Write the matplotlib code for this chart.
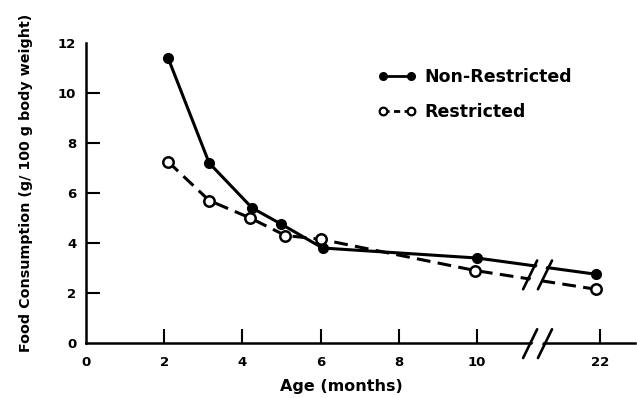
import matplotlib
matplotlib.use('Agg')
import matplotlib.pyplot as plt
import numpy as np
from matplotlib.lines import Line2D
from matplotlib.patches import Polygon

# values
age_nr = [2.1, 3.15, 4.25, 5.0, 6.05, 10.0, 21.6]
food_nr = [11.4, 7.2, 5.4, 4.75, 3.8, 3.4, 2.75]
age_r = [2.1, 3.15, 4.2, 5.1, 6.0, 9.95, 21.6]
food_r = [7.25, 5.7, 5.0, 4.3, 4.15, 2.9, 2.15]
xticks = [0, 2, 4, 6, 8, 10, 22]
yticks = [0, 2, 4, 6, 8, 10, 12]
labels = ['Non-Restricted', 'Restricted']

K = 0.2625  # compression of the axis after the break

def fwd(x):
    x = np.asarray(x, float)
    return np.where(x <= 10, x, 10 + (x - 10) * K)

def inv(x):
    x = np.asarray(x, float)
    return np.where(x <= 10, x, 10 + (x - 10) / K)

plt.rcParams['font.family'] = 'DejaVu Sans'
plt.rcParams['font.weight'] = 'bold'

fig = plt.figure(figsize=(6.37, 3.98), dpi=100)
ax = fig.add_axes([86/637, 1-343/398, 549/637, 300/398])
ax.set_xscale('function', functions=(fwd, inv))
ax.set_xlim(0, 25.4)
ax.set_ylim(0, 12)

for s in ['top', 'right']:
    ax.spines[s].set_visible(False)
for s in ['left', 'bottom']:
    ax.spines[s].set_linewidth(1.8)

ax.set_xticks(xticks)
ax.set_xticklabels([str(t) for t in xticks])
ax.set_yticks(yticks)
ax.tick_params(direction='in', length=10, width=1.5, labelsize=9.5)
ax.tick_params(axis='x', pad=9)
ax.tick_params(axis='y', pad=7)
ax.yaxis.get_major_ticks()[-1].tick1line.set_visible(False)
ax.yaxis.get_major_ticks()[0].tick1line.set_visible(False)
ax.xaxis.get_major_ticks()[0].tick1line.set_visible(False)

ax.plot(age_nr, food_nr, '-', color='black', lw=2.2, marker='o', ms=7,
        mfc='black', mec='black', zorder=3)
ax.plot(age_r, food_r, color='black', lw=2.2, dashes=(4.5, 2.4), marker='o',
        ms=7.5, mfc='white', mec='black', mew=1.8, zorder=4)

# axis break marks
def brk(y0, y1):
    d0, w, g = 11.18, 0.36, 0.38
    a = inv([d0, d0 + w])
    b = inv([d0 + g, d0 + g + w])
    ax.add_patch(Polygon([[a[0] + 0.25, y0], [a[1] + 0.25, y1], [b[1] - 0.25, y1], [b[0] - 0.25, y0]],
                         closed=True, fc='white', ec='none', zorder=6, clip_on=False))
    ax.plot(a, [y0, y1], color='black', lw=1.9, zorder=7, clip_on=False, solid_capstyle='round')
    ax.plot(b, [y0, y1], color='black', lw=1.9, zorder=7, clip_on=False, solid_capstyle='round')

brk(2.15, 3.3)
brk(-0.6, 0.55)

ax.set_xlabel('Age (months)', fontsize=11.5, fontweight='bold')
ax.xaxis.set_label_coords(0.465, -0.12)
ax.set_ylabel('Food Consumption (g/ 100 g body weight)', fontsize=10.3, fontweight='bold')
ax.yaxis.set_label_coords(-0.0965, 0.533)

handles = [Line2D([], [], color='black', lw=2, marker='o', ms=5.5, mfc='black', mec='black'),
           Line2D([], [], color='black', lw=2, dashes=(2.2, 1.6), marker='o', ms=5.5,
                  mfc='white', mec='black', mew=1.6)]
ax.legend(handles, labels, numpoints=2, frameon=False, fontsize=12.5, loc='upper left',
          bbox_to_anchor=(378/637, 1-68/398), bbox_transform=fig.transFigure,
          borderpad=0, borderaxespad=0, handlelength=2.2, handletextpad=0.5,
          labelspacing=1.0)

fig.savefig('out.png', dpi=100)
